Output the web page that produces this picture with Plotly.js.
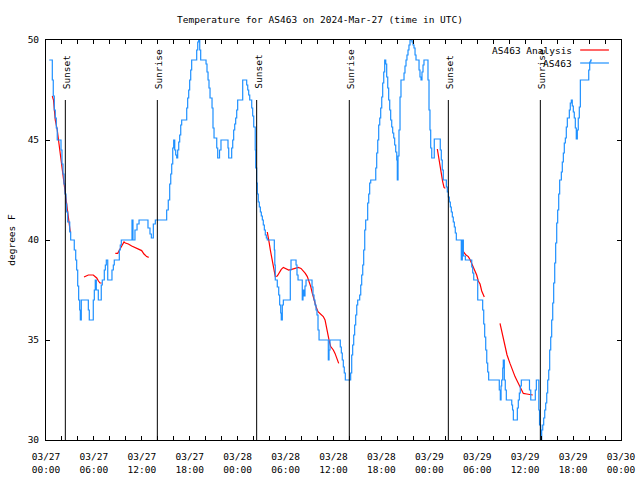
<!DOCTYPE html>
<html>
<head>
<meta charset="utf-8">
<script src="https://cdn.plot.ly/plotly-3.0.1.min.js"></script>
<style>html,body{margin:0;padding:0;background:#fff}#chart{width:640px;height:480px}</style>
</head>
<body>
<div id="chart"></div>
<script>
// Hours since 2024-03-27 00:00 UTC
const startDate = Date.UTC(2024, 2, 27, 0, 0, 0);

const obsHours = [0.41,0.79,0.91,1.04,1.16,1.29,1.41,1.88,2.00,2.13,2.25,2.38,2.50,2.59,2.72,2.97,3.09,3.54,3.72,3.84,3.97,4.09,4.22,4.30,4.42,5.30,5.42,5.92,6.05,6.17,6.30,6.55,6.92,7.05,7.30,7.43,7.55,7.73,8.26,8.43,8.55,9.18,9.30,9.43,10.77,10.89,11.14,11.40,11.65,12.77,13.02,13.19,13.44,13.69,15.11,15.31,15.49,15.62,15.74,15.87,15.99,16.12,16.24,16.37,16.49,16.62,16.74,16.87,16.99,17.62,17.74,17.87,17.99,18.12,18.24,18.87,19.00,19.12,19.25,19.37,20.04,20.16,20.29,20.41,20.54,20.79,20.91,21.04,21.38,21.50,21.73,21.91,22.79,22.88,23.25,23.38,23.50,23.63,23.75,23.88,24.00,24.63,25.13,25.26,25.38,25.51,25.76,25.88,26.01,26.20,26.26,26.38,26.46,26.58,26.71,26.84,26.96,27.09,27.21,27.34,27.46,27.59,27.71,28.59,28.65,28.71,28.96,29.14,29.26,29.39,29.46,29.59,29.72,30.59,30.68,31.31,31.43,31.56,32.09,32.18,32.31,32.43,32.56,33.31,33.43,33.56,33.68,33.81,33.93,34.06,34.19,35.35,35.44,35.56,36.85,36.98,37.10,37.23,37.35,37.48,38.15,38.28,38.40,38.53,38.65,38.78,38.91,39.03,39.28,39.41,39.53,39.66,39.78,39.91,40.03,40.28,40.41,40.53,40.66,41.29,41.41,41.54,41.66,41.79,41.91,42.04,42.16,42.29,42.41,42.54,42.66,42.79,42.91,43.04,43.16,43.29,43.41,43.54,43.66,43.79,43.92,43.99,44.08,44.20,44.33,44.45,44.83,44.95,45.08,45.20,45.33,45.45,45.58,45.83,45.96,46.08,46.21,46.33,46.71,46.83,46.96,47.08,47.21,47.33,47.83,47.96,48.08,48.17,48.30,48.62,49.37,49.50,49.62,49.75,50.13,50.25,50.38,50.50,50.63,50.75,50.88,51.00,51.13,51.25,51.38,52.00,52.13,52.26,52.51,53.31,53.43,53.56,54.06,54.68,54.81,54.93,55.06,55.19,55.31,55.43,56.76,56.89,56.98,57.06,57.19,57.26,57.39,57.51,57.64,58.32,58.42,58.52,59.02,59.14,59.27,59.39,59.52,60.54,60.70,61.27,61.40,61.71,61.80,61.95,62.07,62.20,62.32,62.45,62.57,62.70,62.82,62.95,63.07,63.20,63.32,63.45,63.57,63.70,63.82,63.95,64.07,64.20,64.32,64.53,64.65,64.78,64.90,65.03,65.15,65.28,65.53,65.65,65.78,65.90,66.03,66.15,66.28,66.40,66.53,66.65,66.78,66.91,67.96,68.08,68.21,68.37];

const obsTemps = [49.0,48.0,47.2,46.5,46.1,45.6,45.0,44.5,43.8,43.3,42.8,42.3,41.8,41.4,40.9,40.4,40.0,39.5,39.0,38.5,37.7,37.0,36.5,36.0,37.0,36.5,36.0,37.0,37.5,38.0,37.5,37.0,37.75,38.0,38.5,38.75,39.0,38.0,38.5,38.75,39.0,39.5,39.75,40.0,41.0,40.0,40.5,40.8,41.0,40.6,40.3,40.1,40.8,41.0,41.5,42.0,42.8,43.3,43.8,44.6,45.0,44.5,44.25,44.1,44.5,44.9,45.25,45.75,46.0,46.6,47.1,47.5,48.0,48.5,49.0,49.5,49.9,50.0,49.5,49.0,48.8,48.4,48.0,47.6,47.1,46.6,45.6,45.1,44.6,44.1,44.5,45.0,44.6,44.1,44.6,45.0,45.5,45.8,46.1,46.5,47.0,48.0,47.75,47.5,47.25,47.0,46.6,46.2,45.65,44.5,43.6,42.85,42.3,41.9,41.65,41.4,41.2,41.0,40.75,40.5,40.25,40.1,40.0,39.5,38.75,38.0,37.65,37.25,36.75,36.35,36.0,36.75,37.0,38.5,39.0,38.75,38.25,38.0,37.0,37.5,37.2,37.7,38.0,37.65,37.25,37.0,36.75,36.5,36.25,35.5,35.0,34.0,34.5,35.0,34.65,34.35,34.0,33.65,33.35,33.0,33.35,34.25,34.75,35.25,35.75,36.25,36.75,37.0,37.25,37.75,38.25,38.75,39.5,40.5,41.0,41.85,42.3,42.85,43.0,43.6,44.35,45.0,45.75,46.1,46.6,47.15,47.85,48.4,49.0,48.8,48.15,47.6,47.0,46.5,46.0,45.65,45.35,45.1,44.75,44.4,44.0,43.0,44.2,45.5,47.15,48.0,48.35,48.7,49.0,49.25,49.5,49.75,50.0,49.9,49.75,49.6,49.25,49.0,48.5,48.15,48.0,48.4,48.75,49.0,48.0,46.5,45.5,44.6,44.1,45.05,44.5,44.0,43.5,43.0,42.65,42.4,42.15,41.9,41.65,41.4,41.15,40.9,40.65,40.35,40.0,39.0,40.0,39.2,39.0,38.65,38.35,38.0,37.0,36.5,35.8,35.15,34.5,33.85,33.4,33.0,32.5,32.0,32.7,33.0,33.6,34.0,33.0,32.5,32.0,31.75,31.5,31.0,31.6,32.0,32.35,32.7,33.0,32.5,32.0,32.5,33.0,31.5,30.75,30.0,30.5,30.75,31.1,31.5,31.85,32.35,33.0,33.5,34.5,35.15,36.0,36.85,37.85,38.85,39.85,40.85,41.5,42.3,43.0,43.4,43.9,44.35,44.85,45.1,45.65,46.1,46.5,46.85,47.0,46.7,46.4,46.1,45.6,45.05,45.5,46.1,46.65,48.0,48.5,48.9,49.0,49.0];

const anaHours = [0.79,0.94,1.16,1.41,1.63,1.84,2.09,2.25,2.50,2.59,2.72,2.84,2.94,3.04,null,
  4.76,5.01,5.30,5.92,6.35,6.57,6.76,6.97,null,
  8.68,8.98,9.27,9.55,9.77,9.93,10.31,10.73,11.14,11.56,11.98,12.27,12.61,12.86,null,
  27.71,27.84,27.96,28.09,28.34,28.46,28.59,28.71,28.96,29.21,29.46,29.72,30.05,30.39,30.77,31.18,31.59,31.93,32.22,32.47,32.72,32.93,33.15,33.35,33.56,33.81,34.06,34.40,34.72,34.94,35.06,35.19,35.31,35.48,35.65,35.98,36.19,36.40,36.65,null,
  49.00,49.17,49.37,49.50,49.67,49.84,50.00,null,
  52.05,52.26,52.59,52.88,53.09,53.31,53.51,53.72,53.93,54.13,54.35,54.56,54.76,54.88,null,
  56.85,57.10,57.26,57.56,57.73,58.10,58.32,58.52,58.73,58.94,59.14,59.35,59.57,59.77,60.19,60.61,60.95];

const anaTemps = [47.2,47.0,46.0,45.5,44.8,44.15,43.5,43.0,42.3,41.8,41.35,41.0,40.7,40.4,null,
  38.15,38.2,38.25,38.25,38.1,37.95,37.85,37.85,null,
  39.33,39.33,39.55,39.75,39.9,39.85,39.8,39.7,39.63,39.55,39.47,39.3,39.17,39.13,null,
  40.4,40.17,39.83,39.5,38.92,38.58,38.33,38.17,38.2,38.37,38.53,38.63,38.58,38.5,38.53,38.58,38.63,38.58,38.47,38.33,38.17,37.95,37.67,37.33,37.0,36.67,36.42,36.28,36.17,36.0,35.75,35.5,35.17,34.92,34.67,34.5,34.33,34.08,33.83,null,
  44.55,44.1,43.6,43.25,42.92,42.63,42.58,null,
  39.58,39.42,39.25,39.17,39.03,38.83,38.58,38.42,38.25,37.95,37.8,37.45,37.25,37.15,null,
  35.83,35.33,35.0,34.42,34.25,33.83,33.58,33.33,33.17,33.0,32.83,32.67,32.5,32.33,32.3,32.28,32.25];

const eventHours = [2.42, 13.94, 26.38, 37.98, 50.38, 61.90];
const eventLabels = ["Sunset","Sunrise","Sunset","Sunrise","Sunset","Sunrise"];

const tickHours = [0,6,12,18,24,30,36,42,48,54,60,66,72];
const tickLabels = ["03/27<br>00:00","03/27<br>06:00","03/27<br>12:00","03/27<br>18:00",
  "03/28<br>00:00","03/28<br>06:00","03/28<br>12:00","03/28<br>18:00",
  "03/29<br>00:00","03/29<br>06:00","03/29<br>12:00","03/29<br>18:00","03/30<br>00:00"];

const yTicks = [30,35,40,45,50];
const seriesNames = ["AS463 Analysis","AS463"];
const titleText = "Temperature for AS463 on 2024-Mar-27 (time in UTC)";
const yTitle = "degrees F";

function toDate(h) {
  if (h === null) return null;
  return new Date(startDate + h * 3600000).toISOString().replace('T',' ').slice(0,19);
}

const FONT = "DejaVu Sans Mono, Liberation Mono, monospace";
const RED = "#ff0000";
const BLUE = "#1e90ff";

const traces = [
  {x: anaHours.map(toDate), y: anaTemps, type: 'scatter', mode: 'lines', name: seriesNames[0],
   line: {color: RED, width: 1.2}, connectgaps: false, hoverinfo: 'skip'},
  {x: obsHours.map(toDate), y: obsTemps, type: 'scatter', mode: 'lines', name: seriesNames[1],
   line: {color: BLUE, width: 1.2, shape: 'hv'}, hoverinfo: 'skip'}
];

const shapes = eventHours.map(h => ({
  type: 'line', xref: 'x', yref: 'y', x0: toDate(h), x1: toDate(h), y0: 30, y1: 47.0,
  line: {color: 'black', width: 1}
}));
shapes.push({type:'line', xref:'paper', yref:'paper', x0:0.929, x1:0.979, y0:0.975, y1:0.975, line:{color:RED, width:1.2}});
shapes.push({type:'line', xref:'paper', yref:'paper', x0:0.929, x1:0.979, y0:0.9425, y1:0.9425, line:{color:BLUE, width:1.2}});

const annotations = eventHours.map((h, i) => ({
  x: toDate(h), y: 47.45, xref: 'x', yref: 'y', text: eventLabels[i], showarrow: false,
  textangle: -90, xanchor: 'center', yanchor: 'bottom', xshift: 1,
  font: {family: FONT, size: 9.5, color: 'black'}
}));
annotations.push({x:0.918, y:0.975, xref:'paper', yref:'paper', text: seriesNames[0], showarrow:false,
  xanchor:'right', yanchor:'middle', font:{family:FONT, size:9.5, color:'black'}});
annotations.push({x:0.918, y:0.9425, xref:'paper', yref:'paper', text: seriesNames[1], showarrow:false,
  xanchor:'right', yanchor:'middle', font:{family:FONT, size:9.5, color:'black'}});

const layout = {
  width: 640, height: 480,
  margin: {l: 46, r: 19, t: 40, b: 40, pad: 0},
  paper_bgcolor: 'white', plot_bgcolor: 'white',
  showlegend: false,
  font: {family: FONT, size: 9.5, color: 'black'},
  title: {text: titleText, x: 0.5, xref: 'container', y: 0.958, yref: 'container',
    xanchor: 'center', yanchor: 'middle', font: {family: FONT, size: 9.5, color: 'black'}},
  xaxis: {
    type: 'date', range: [toDate(0), toDate(72)],
    tickvals: tickHours.map(toDate), ticktext: tickLabels, tickmode: 'array',
    ticks: 'inside', ticklen: 4, tickcolor: 'black', tickwidth: 1,
    ticklabelstandoff: 8,
    minor: {dtick: 7200000, tick0: toDate(0), ticks: 'inside', ticklen: 4, tickcolor: 'black', tickwidth: 1, showgrid: false},
    showline: true, linecolor: 'black', linewidth: 1, mirror: 'ticks',
    showgrid: false, zeroline: false, fixedrange: true,
    tickfont: {family: FONT, size: 9.5, color: 'black'}
  },
  yaxis: {
    range: [30, 50], tickvals: yTicks, tickmode: 'array',
    ticks: 'inside', ticklen: 4, tickcolor: 'black', tickwidth: 1,
    ticklabelstandoff: 4,
    showline: true, linecolor: 'black', linewidth: 1, mirror: 'ticks',
    showgrid: false, zeroline: false, fixedrange: true,
    tickfont: {family: FONT, size: 9.5, color: 'black'},
    title: {text: yTitle, standoff: 10, font: {family: FONT, size: 9.5, color: 'black'}}
  },
  shapes: shapes,
  annotations: annotations
};

Plotly.newPlot('chart', traces, layout, {staticPlot: true, displayModeBar: false});
</script>
</body>
</html>
